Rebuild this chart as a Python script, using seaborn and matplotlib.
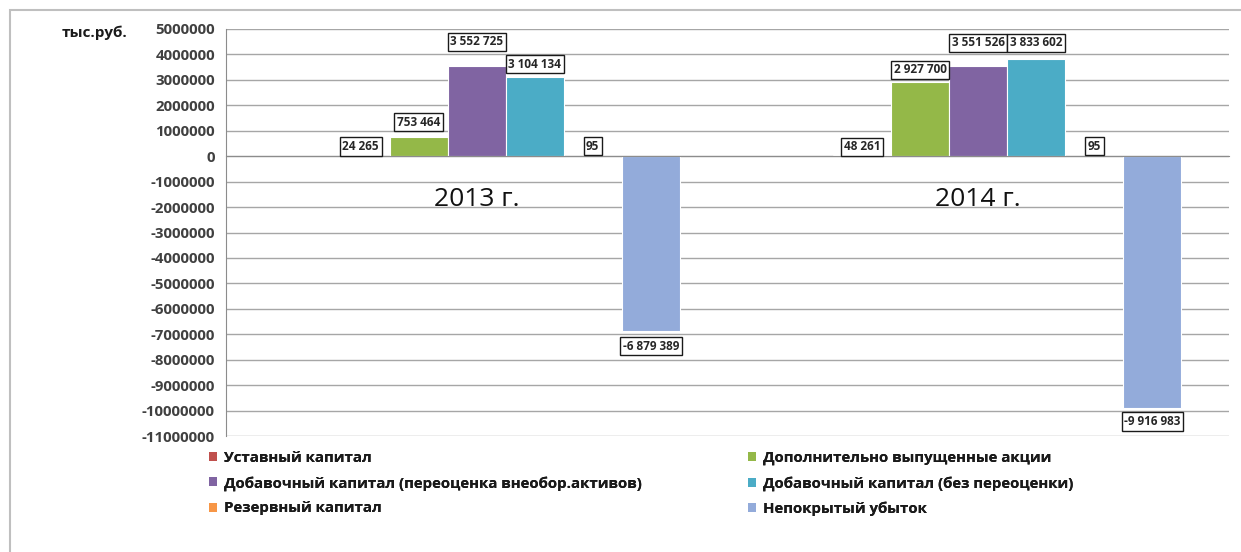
import numpy as np
import pandas as pd
import matplotlib.pyplot as plt
import seaborn as sns
from matplotlib.container import BarContainer
from matplotlib.patches import Patch, Rectangle

years = ["2013 г.", "2014 г."]
series = [
    "Уставный капитал",
    "Дополнительно выпущенные акции",
    "Добавочный капитал (переоценка внеобор.активов)",
    "Добавочный капитал (без переоценки)",
    "Резервный капитал",
    "Непокрытый убыток",
]
ustavny = [24265, 48261]
dop_akcii = [753464, 2927700]
dob_pereocenka = [3552725, 3551526]
dob_bez = [3104134, 3833602]
rezervny = [95, 95]
nepokryty = [-6879389, -9916983]

colors = ["#C0504D", "#94B848", "#8064A2", "#4BACC6", "#F79646", "#93ABDA"]
# how far (px) each data label box sits from its bar end, per series / year
label_lift = [[9, 8], [15, 12], [24, 23], [13, 16], [10, 10], [-15, -13]]

values = [ustavny, dop_akcii, dob_pereocenka, dob_bez, rezervny, nepokryty]
rows = []
for name, vals in zip(series, values):
    for y, v in zip(years, vals):
        rows.append({"year": y, "series": name, "value": v})
df = pd.DataFrame(rows)

sns.set_style("white")
plt.rcParams["font.family"] = ["Open Sans", "DejaVu Sans"]

fig = plt.figure(figsize=(12.41, 5.52), dpi=100)
fig.patch.set_facecolor("white")
ax = fig.add_axes([226 / 1241, 1 - 436 / 552, (1229 - 226) / 1241, (436 - 29) / 552])

# Excel chart keeps an empty first slot in each group
slots = [" "] + series
palette = dict(zip(series, colors))
palette[" "] = "white"

sns.barplot(
    data=df,
    x="year",
    y="value",
    hue="series",
    order=years,
    hue_order=slots,
    palette=palette,
    width=0.81,
    gap=0,
    saturation=1,
    edgecolor="white",
    linewidth=0.8,
    legend=False,
    errorbar=None,
    ax=ax,
)

ax.set_xlim(-0.5, 1.5)
ax.set_ylim(-11000000, 5000000)
ax.set_yticks(range(-11000000, 5000001, 1000000))
ax.set_yticklabels([str(t) for t in range(-11000000, 5000001, 1000000)])
ax.yaxis.grid(True, color="#A6A6A6", linewidth=1)
ax.set_axisbelow(True)
ax.set_xlabel("")
ax.set_ylabel("")

for s in ["top", "right"]:
    ax.spines[s].set_visible(False)
ax.spines["left"].set_color("#8C8C8C")
ax.spines["bottom"].set_position(("data", 0))
ax.spines["bottom"].set_color("#8C8C8C")

ax.tick_params(axis="y", length=3, color="#8C8C8C", pad=5, labelsize=10.8, labelcolor="#404040")
for lab in ax.get_yticklabels():
    lab.set_fontweight("bold")
ax.tick_params(axis="x", which="major", length=0, pad=22, labelsize=19, labelcolor="#111111")
ax.set_xticks([0.5, 1.5], minor=True)
ax.tick_params(axis="x", which="minor", length=5, color="#8C8C8C", direction="out")

lookup = {}
for i, vals in enumerate(values):
    for j, v in enumerate(vals):
        lookup[v] = (i, j)

for cont in ax.containers:
    if not isinstance(cont, BarContainer):
        continue
    for bar in cont:
        h = bar.get_height()
        if np.isnan(h) or int(round(h)) not in lookup:
            continue
        i, j = lookup[int(round(h))]
        txt = f"{int(round(h)):,}".replace(",", " ")
        lift = label_lift[i][j] * 72 / 100
        ax.annotate(
            txt,
            (bar.get_x() + bar.get_width() / 2, h),
            xytext=(0, lift),
            textcoords="offset points",
            ha="center",
            va="center",
            fontsize=8.5,
            fontweight="bold",
            color="#262626",
            bbox=dict(boxstyle="square,pad=0.22", fc="white", ec="#1a1a1a", lw=1),
        )

fig.text(62 / 1241, 1 - 33 / 552, "тыс.руб.", fontsize=11, fontweight="bold",
         color="#1a1a1a", va="center", ha="left")

handles = [Patch(facecolor=c, edgecolor="none") for c in colors]
leg_kw = dict(frameon=False, fontsize=10.8, handlelength=0.55, handleheight=0.55,
              handletextpad=0.45, labelspacing=0.72, borderaxespad=0, borderpad=0)
for cols, x0 in [([0, 2, 4], 209), ([1, 3, 5], 748)]:
    leg = fig.legend([handles[k] for k in cols], [series[k] for k in cols],
                     loc="upper left", bbox_to_anchor=(x0 / 1241, 1 - 451 / 552), **leg_kw)
    for t in leg.get_texts():
        t.set_color("#1a1a1a")
        t.set_fontweight("bold")
    fig.add_artist(leg)

fig.add_artist(Rectangle((10 / 1241, -0.05), 1.2, 1 - 10 / 552 + 0.05,
                         transform=fig.transFigure, fill=False, ec="#BFBFBF", lw=1.5))

plt.savefig("out.png", dpi=100)
print("Saved: out.png")
